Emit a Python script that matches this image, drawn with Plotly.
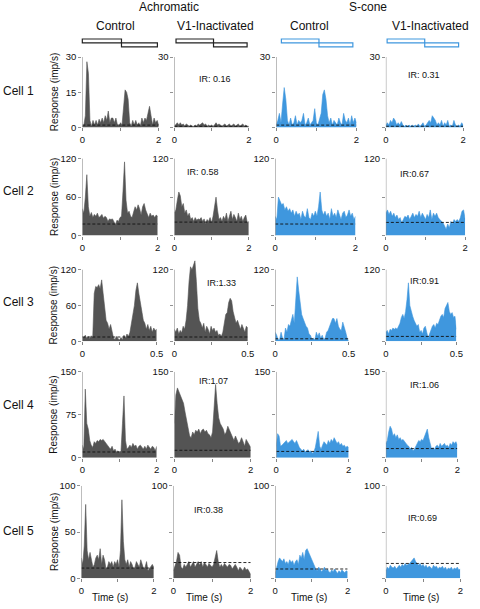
import numpy as np
import plotly.graph_objects as go

W, H = 480, 609

# ---------------- data ----------------
t_long = np.round(np.arange(51) * 0.04, 2)    # 0 .. 2 s
t_short = np.round(np.arange(51) * 0.01, 2)   # 0 .. 0.5 s

columns = ["Achromatic Control", "Achromatic V1-Inactivated", "S-cone Control", "S-cone V1-Inactivated"]
cells = ["Cell 1", "Cell 2", "Cell 3", "Cell 4", "Cell 5"]
y_max = [30, 120, 120, 150, 100]
y_mid = [15, 60, 60, 75, 50]
x_max = [2, 2, 0.5, 2, 2]
x_max_label = ["2", "2", "0.5", "2", "2"]

cell1_ach_ctrl = [0.5, 1, 5, 28, 23, 3, 0.5, 3, 1, 3, 1, 3.5, 2, 4, 2, 5, 3, 7, 2, 4, 4, 2, 4, 1, 0.5, 2,
                  1, 8, 16, 15, 12, 2, 0.5, 3, 1, 3, 1, 2, 0.5, 4, 2, 4, 3, 6, 9, 5, 1, 4, 2, 3, 1]
cell1_ach_v1 = [0.5, 1.5, 2, 1, 2, 1, 1.5, 0.5, 1.5, 1, 0.5, 1, 0.5, 0.5, 1, 0.5, 1.5, 1, 1.5, 2, 1, 1.5,
                0.5, 1, 0.5, 1, 0.5, 1, 2, 1, 1.5, 1, 0.5, 1, 1.5, 0.5, 1, 1.5, 0.5, 1, 1.5, 0.5, 1, 1.5,
                0.5, 1, 1.5, 0.5, 1, 0.5, 0.5]
cell1_s_ctrl = [1, 3, 6, 2, 10, 17, 12, 3, 1, 4, 1, 2, 5, 1, 3, 2, 3, 6, 1, 2, 4, 1, 2, 3, 8, 2, 1, 4, 6,
                14, 16, 12, 5, 2, 4, 1, 3, 2, 1, 4, 2, 1, 6, 3, 2, 4, 1, 5, 2, 4, 2]
cell1_s_v1 = [1, 2, 1, 3, 2, 4, 3, 1, 2, 1, 2.5, 1, 0.5, 1, 0.5, 1, 0.5, 1, 0.5, 1, 0.5, 1.5, 0.5, 1, 2,
              0.5, 1, 2, 3, 2, 5, 4, 3, 1, 2, 1, 3, 0.5, 2, 1, 3, 0.5, 1, 0.5, 3, 1, 0.5, 1, 0.5, 2, 1]

cell2_ach_ctrl = [42, 35, 60, 95, 45, 30, 36, 28, 33, 30, 35, 28, 30, 33, 27, 30, 28, 22, 26, 25, 26, 20,
                  17, 24, 22, 28, 30, 70, 115, 55, 35, 38, 30, 28, 35, 45, 40, 48, 42, 32, 45, 50, 40,
                  33, 28, 35, 30, 32, 28, 32, 30]
cell2_ach_v1 = [35, 40, 55, 68, 62, 45, 50, 35, 40, 30, 35, 25, 28, 22, 28, 24, 26, 25, 28, 22, 26, 18,
                25, 22, 28, 20, 30, 45, 60, 40, 25, 28, 22, 30, 25, 35, 22, 30, 38, 25, 33, 28, 22, 35,
                25, 30, 22, 28, 32, 20, 22]
cell2_s_ctrl = [30, 25, 60, 55, 48, 50, 40, 45, 38, 42, 35, 40, 30, 38, 32, 35, 25, 38, 30, 28, 42, 28,
                25, 35, 30, 38, 30, 45, 68, 40, 32, 38, 30, 35, 25, 42, 30, 35, 28, 40, 32, 25, 35, 38,
                28, 32, 40, 30, 35, 25, 30]
cell2_s_v1 = [35, 40, 33, 38, 30, 35, 28, 32, 25, 28, 20, 25, 30, 28, 32, 25, 30, 35, 28, 33, 30, 38, 28,
              35, 30, 25, 33, 28, 40, 25, 35, 30, 35, 28, 25, 22, 20, 15, 10, 18, 12, 22, 18, 25, 22,
              25, 22, 28, 38, 40, 25]

cell3_ach_ctrl = [8, 6, 10, 5, 8, 4, 9, 6, 80, 92, 90, 95, 88, 103, 80, 50, 35, 30, 20, 28, 15, 5, 3, 8,
                  4, 2, 6, 3, 10, 5, 12, 8, 15, 30, 45, 60, 85, 98, 80, 65, 45, 35, 30, 20, 28, 18, 25,
                  15, 22, 18, 20]
cell3_ach_v1 = [20, 15, 22, 12, 18, 14, 25, 20, 35, 60, 100, 125, 120, 128, 135, 100, 55, 35, 30, 22, 30,
                15, 25, 20, 12, 25, 18, 22, 15, 18, 10, 12, 8, 15, 35, 45, 48, 65, 72, 68, 50, 40, 30,
                35, 25, 20, 28, 22, 15, 25, 22]
cell3_s_ctrl = [15, 10, 2, 3, 15, 5, 3, 22, 15, 28, 25, 35, 45, 30, 75, 108, 85, 60, 45, 38, 30, 25, 22,
                12, 10, 3, 5, 2, 15, 8, 14, 5, 10, 3, 5, 15, 18, 25, 30, 38, 38, 30, 38, 25, 20, 18, 32,
                25, 15, 5, 0]
cell3_s_v1 = [15, 18, 12, 20, 18, 22, 20, 22, 20, 25, 30, 40, 45, 38, 50, 70, 98, 60, 48, 42, 35, 30, 25,
              28, 15, 18, 12, 22, 25, 15, 5, 12, 20, 25, 28, 22, 30, 28, 35, 42, 45, 40, 55, 60, 65, 50,
              45, 48, 40, 42, 20]

cell4_ach_ctrl = [22, 15, 120, 60, 50, 30, 22, 18, 28, 25, 30, 28, 32, 30, 32, 28, 25, 22, 18, 15, 20,
                  12, 15, 10, 12, 8, 12, 60, 108, 30, 15, 18, 22, 18, 25, 20, 22, 15, 20, 22, 18, 15,
                  20, 15, 22, 18, 15, 20, 18, 12, 20]
cell4_ach_v1 = [60, 110, 122, 115, 108, 100, 95, 80, 65, 50, 38, 35, 45, 40, 48, 45, 50, 42, 48, 50, 45,
                48, 42, 40, 35, 45, 80, 128, 95, 70, 60, 55, 50, 40, 45, 55, 48, 42, 35, 30, 38, 32, 25,
                28, 35, 28, 20, 32, 28, 22, 18]
cell4_s_ctrl = [20, 42, 38, 20, 22, 25, 28, 30, 25, 28, 30, 32, 28, 25, 30, 22, 18, 15, 12, 15, 10, 12,
                14, 10, 12, 8, 10, 18, 35, 46, 20, 15, 22, 28, 25, 22, 30, 25, 32, 28, 35, 30, 25, 28,
                22, 25, 20, 22, 18, 20, 18]
cell4_s_v1 = [25, 30, 45, 55, 50, 38, 42, 35, 40, 32, 35, 30, 32, 28, 25, 22, 20, 15, 18, 12, 15, 20, 25,
              30, 28, 32, 30, 38, 45, 50, 35, 22, 15, 18, 14, 20, 22, 18, 25, 20, 22, 25, 20, 22, 18,
              25, 22, 28, 25, 28, 22]

cell5_ach_ctrl = [22, 15, 35, 80, 30, 20, 28, 18, 12, 15, 22, 25, 20, 32, 15, 25, 20, 10, 12, 18, 15, 18,
                  12, 18, 15, 20, 12, 30, 85, 40, 20, 15, 20, 12, 18, 15, 10, 12, 18, 15, 12, 20, 15,
                  10, 12, 18, 8, 10, 12, 15, 12]
cell5_ach_v1 = [8, 12, 18, 28, 25, 12, 10, 15, 12, 15, 18, 12, 15, 18, 12, 16, 18, 14, 18, 12, 17, 15,
                12, 16, 14, 12, 15, 22, 30, 18, 12, 15, 12, 16, 14, 12, 15, 14, 10, 12, 15, 12, 8, 12,
                10, 8, 12, 9, 10, 6, 4]
cell5_s_ctrl = [5, 12, 18, 22, 20, 18, 21, 16, 18, 15, 20, 17, 19, 14, 18, 20, 15, 25, 22, 28, 20, 30,
                32, 28, 25, 22, 18, 12, 10, 8, 12, 10, 7, 9, 12, 8, 10, 7, 6, 9, 7, 10, 8, 5, 8, 6, 9,
                7, 6, 8, 7]
cell5_s_v1 = [8, 12, 10, 14, 12, 11, 13, 10, 12, 14, 12, 15, 13, 16, 14, 15, 16, 18, 20, 22, 18, 16, 14,
              16, 13, 15, 12, 14, 11, 13, 12, 10, 14, 12, 13, 10, 12, 11, 13, 10, 12, 9, 11, 10, 12, 9,
              11, 10, 12, 9, 10]

responses = [
    [cell1_ach_ctrl, cell1_ach_v1, cell1_s_ctrl, cell1_s_v1],
    [cell2_ach_ctrl, cell2_ach_v1, cell2_s_ctrl, cell2_s_v1],
    [cell3_ach_ctrl, cell3_ach_v1, cell3_s_ctrl, cell3_s_v1],
    [cell4_ach_ctrl, cell4_ach_v1, cell4_s_ctrl, cell4_s_v1],
    [cell5_ach_ctrl, cell5_ach_v1, cell5_s_ctrl, cell5_s_v1],
]
spontaneous = [
    [1, 0.5, 1, 0.5],
    [18, 21, 18, 20.5],
    [7, 7, 4, 8],
    [10, 13, 11, 16],
    [11, 17, 10, 16],
]
ir_values = [["IR: 0.16", "IR: 0.31"], ["IR: 0.58", "IR:0.67"], ["IR:1.33", "IR:0.91"],
             ["IR:1.07", "IR:1.06"], ["IR:0.38", "IR:0.69"]]

# ---------------- layout geometry (pixels) ----------------
row_y = [(57.5, 128.5), (160, 237.5), (272, 344), (375, 461.5), (490, 583)]
col_x = [
    [(81, 159), (175, 251), (279, 361), (391, 470)],
    [(81, 158), (175, 251), (278, 360), (391, 472)],
    [(81, 157), (175, 250), (278, 353), (391, 463)],
    [(81, 157), (175, 253), (279, 353), (391, 464)],
    [(80, 154), (174, 253), (278, 352), (391, 467)],
]
ir_pos = [[(216, 80), (430, 76)], [(204, 173), (420, 175)], [(223, 285), (430, 283)],
          [(215, 384), (430, 388)], [(210, 514), (428, 522)]]
cell_label_y = [92, 193, 305, 408, 535]

GRAY = "#545454"
BLUE = "#3f97de"
FONT = "Liberation Sans, Arial, sans-serif"
EXT = 1.15

def px(x):
    return x / W

def py(y):
    return 1 - y / H

fig = go.Figure()
layout = dict(
    width=W, height=H, margin=dict(l=0, r=0, t=0, b=0),
    plot_bgcolor="white", paper_bgcolor="white", showlegend=False,
    font=dict(family=FONT, color="#111", size=10),
)
shapes, annotations = [], []

for r in range(5):
    top, bot = row_y[r]
    top_ext = bot - (bot - top) * EXT
    t = t_short if x_max[r] == 0.5 else t_long
    for c in range(4):
        idx = r * 4 + c + 1
        xa = "x" if idx == 1 else f"x{idx}"
        ya = "y" if idx == 1 else f"y{idx}"
        color = GRAY if c < 2 else BLUE
        fig.add_trace(go.Scatter(
            x=t, y=responses[r][c], mode="lines", fill="tozeroy",
            line=dict(color=color, width=0.6), fillcolor=color,
            xaxis=xa, yaxis=ya, hoverinfo="skip"))
        fig.add_trace(go.Scatter(
            x=[0, x_max[r]], y=[spontaneous[r][c]] * 2, mode="lines",
            line=dict(color="#111", width=0.9, dash="3px,2px"),
            xaxis=xa, yaxis=ya, hoverinfo="skip"))
        x0, x1 = col_x[r][c]
        if c == 0:
            ttext = ["0", str(y_mid[r]), str(y_max[r])]
        else:
            ttext = ["", "", str(y_max[r])]
        layout[f"xaxis{'' if idx == 1 else idx}"] = dict(
            domain=[px(x0), px(x1)], range=[0, x_max[r]], anchor=ya,
            showgrid=False, zeroline=False, showline=False,
            tickvals=[0, x_max[r] / 2, x_max[r]], ticktext=["0", "", x_max_label[r]],
            ticks="outside", ticklen=3, tickcolor="#666", tickwidth=0.8,
            tickfont=dict(size=9.5, family=FONT, color="#111"), fixedrange=True)
        layout[f"yaxis{'' if idx == 1 else idx}"] = dict(
            domain=[py(bot), py(top_ext)], range=[0, y_max[r] * EXT], anchor=xa,
            showgrid=False, zeroline=False, showline=False,
            tickvals=[0, y_mid[r], y_max[r]], ticktext=ttext,
            ticks="outside", ticklen=3, tickcolor="#777", tickwidth=0.8,
            tickfont=dict(size=9.5, family=FONT, color="#111"), fixedrange=True)
        # y-axis line up to the top tick
        shapes.append(dict(type="line", xref=xa, yref=ya, x0=0, x1=0, y0=0, y1=y_max[r],
                           line=dict(color="#888", width=1), layer="above"))
    # IR labels
    for k, c in enumerate([1, 3]):
        xx, yy = ir_pos[r][k]
        annotations.append(dict(x=px(xx), y=py(yy), xref="paper", yref="paper", text=ir_values[r][k],
                                showarrow=False, font=dict(size=9, family=FONT, color="#111"),
                                xanchor="center", yanchor="middle"))
    annotations.append(dict(x=px(16), y=py(cell_label_y[r]), xref="paper", yref="paper", text=cells[r],
                            showarrow=False, font=dict(size=12, family=FONT, color="#111"),
                            xanchor="center", yanchor="middle"))
    annotations.append(dict(x=px(52), y=py((top + bot) / 2), xref="paper", yref="paper",
                            text="Response (imp/s)", textangle=-90, showarrow=False,
                            font=dict(size=10, family=FONT, color="#111"),
                            xanchor="center", yanchor="middle"))

# headers
for text, x, y in [("Achromatic", 170, 7), ("S-cone", 373, 7), ("Control", 115, 26),
                   ("V1-Inactivated", 217, 26), ("Control", 313, 26), ("V1-Inactivated", 437, 26)]:
    annotations.append(dict(x=px(x), y=py(y), xref="paper", yref="paper", text=text, showarrow=False,
                            font=dict(size=12, family=FONT, color="#111"),
                            xanchor="center", yanchor="middle"))
for x in [109, 205, 313, 427]:
    annotations.append(dict(x=px(x), y=py(602), xref="paper", yref="paper", text="Time (s)",
                            showarrow=False, font=dict(size=10, family=FONT, color="#111"),
                            xanchor="center", yanchor="middle"))

# stimulus icons (step outlines)
icon_x = [(81, 121, 157.7), (176.7, 215, 249.3), (284.3, 322.7, 357.3), (392.3, 430.7, 465.3)]
for c, (a, m, b) in enumerate(icon_x):
    col = "#222" if c < 2 else BLUE
    shapes.append(dict(type="rect", xref="paper", yref="paper", x0=px(a), x1=px(m),
                       y0=py(43.3), y1=py(39.3), line=dict(color=col, width=1.2), fillcolor="white"))
    shapes.append(dict(type="rect", xref="paper", yref="paper", x0=px(m), x1=px(b),
                       y0=py(47.3), y1=py(43.3), line=dict(color=col, width=1.2), fillcolor="white"))

layout["shapes"] = shapes
layout["annotations"] = annotations
fig.update_layout(**layout)
fig.write_html("out.html", config={"staticPlot": True},
               post_script="document.body.style.margin='0';document.body.style.overflow='hidden';")
